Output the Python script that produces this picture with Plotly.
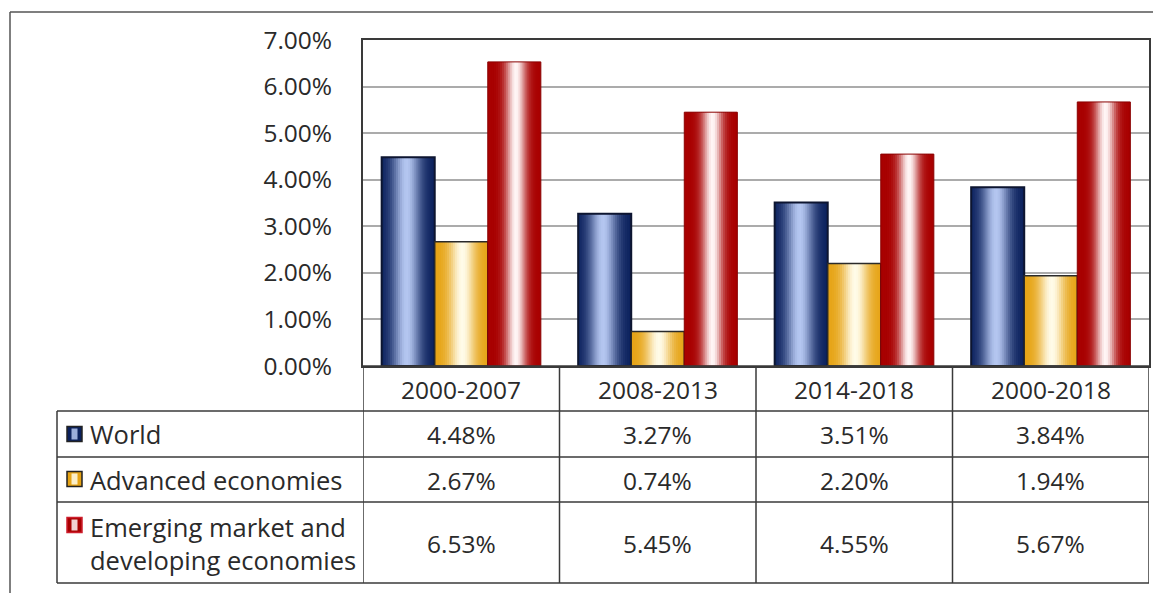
import plotly.graph_objects as go
import math

# ---------------- data ----------------
periods = ["2000-2007", "2008-2013", "2014-2018", "2000-2018"]
series_names = ["World", "Advanced economies", "Emerging market and<br>developing economies"]
world = [4.48, 3.27, 3.51, 3.84]
advanced = [2.67, 0.74, 2.20, 1.94]
emerging = [6.53, 5.45, 4.55, 5.67]
y_ticks = [0, 1, 2, 3, 4, 5, 6, 7]

# ---------------- styling ----------------
W, H = 1153, 593
OFF = 0
FONT = "Open Sans"
FS = 24.5
FS_LAB = 25.5
TXT = "#2a2a2a"
LINE = "#3a3a3a"

def px(x):
    return (x - OFF) / W

def py(y):
    return 1 - (y - OFF) / H

# gradient styles: (dark rgb, light rgb, centre, spread, outline colour, outline width)
styles = [
    ((10, 32, 92), (180, 198, 240), 0.47, 0.26, "#0d1530", 2),
    ((230, 163, 20), (255, 251, 232), 0.52, 0.24, "#2a2a2a", 1.5),
    ((168, 0, 0), (255, 246, 246), 0.53, 0.19, "#8a0000", 1),
]
all_vals = [world, advanced, emerging]

bar_w = 0.27
offsets = [-0.405, -0.135, 0.135]
N = 26
strip = bar_w / N

def mix(c1, c2, f):
    return "rgb(%d,%d,%d)" % tuple(round(a + (b - a) * f) for a, b in zip(c1, c2))

fig = go.Figure()
for s, vals in enumerate(all_vals):
    dark, light, c, sp, oc, ow = styles[s]
    for k in range(N):
        t = (k + 0.5) / N
        f = math.exp(-((t - c) / sp) ** 2)
        w = strip * 1.6 if k < N - 1 else strip
        fig.add_trace(go.Bar(
            x=periods, y=vals, width=w, offset=offsets[s] + k * strip,
            marker=dict(color=mix(dark, light, f), line=dict(width=0)),
            showlegend=False, hoverinfo="skip"))
    fig.add_trace(go.Bar(
        x=periods, y=vals, width=bar_w, offset=offsets[s],
        marker=dict(color="rgba(0,0,0,0)", line=dict(color=oc, width=ow)),
        name=series_names[s].replace("<br>", " "), showlegend=False))

x_dom = [px(363), px(1149)]
y_dom = [py(366), py(40)]

fig.update_layout(
    width=W, height=H, barmode="overlay",
    margin=dict(l=0, r=0, t=0, b=0, autoexpand=False),
    paper_bgcolor="white", plot_bgcolor="white",
    font=dict(family=FONT, color=TXT),
    xaxis=dict(domain=x_dom, type="category", range=[-0.5, 3.5], automargin=False,
               showticklabels=False, ticks="", showgrid=False,
               showline=True, mirror=True, linecolor=LINE, linewidth=2,
               fixedrange=True),
    yaxis=dict(domain=y_dom, range=[0, 7], tickvals=y_ticks, automargin=False,
               ticktext=["%.2f%%" % v for v in y_ticks],
               tickfont=dict(size=FS, color=TXT, family=FONT),
               ticks="", ticklabelstandoff=24,
               showgrid=True, gridcolor="#ababab", gridwidth=1.5,
               showline=True, mirror=True, linecolor=LINE, linewidth=2,
               zeroline=False, fixedrange=True),
)

shapes = []
# outer frame (top and left)
shapes.append(dict(type="line", xref="paper", yref="paper", x0=px(10), x1=1, y0=py(12), y1=py(12),
                   line=dict(color="#555555", width=1.5)))
shapes.append(dict(type="line", xref="paper", yref="paper", x0=px(10), x1=px(10), y0=py(12), y1=0,
                   line=dict(color="#555555", width=1.5)))

# table geometry
row_edges = [366, 411, 457, 502, 583]
tbl_left = 57
for i, yy in enumerate(row_edges):
    x0 = px(363) if i == 0 else px(tbl_left)
    shapes.append(dict(type="line", xref="paper", yref="paper", x0=x0, x1=px(1149), y0=py(yy), y1=py(yy),
                       line=dict(color=LINE, width=1.5)))
shapes.append(dict(type="line", xref="paper", yref="paper", x0=px(tbl_left), x1=px(tbl_left),
                   y0=py(411), y1=py(583), line=dict(color=LINE, width=1.5)))
for i in range(len(periods) + 1):
    shapes.append(dict(type="line", xref="x", yref="paper", x0=i - 0.5, x1=i - 0.5,
                       y0=py(366), y1=py(583), line=dict(color=LINE, width=1.5)))

annotations = []
for p in periods:
    annotations.append(dict(x=p, xref="x", y=py(389), yref="paper", text=p, showarrow=False,
                            xanchor="center", yanchor="middle", font=dict(size=FS, family=FONT, color=TXT)))
row_centres = [434, 480, 543]
for s, vals in enumerate(all_vals):
    for p, v in zip(periods, vals):
        annotations.append(dict(x=p, xref="x", y=py(row_centres[s]), yref="paper", text="%.2f%%" % v,
                                showarrow=False, xanchor="center", yanchor="middle",
                                font=dict(size=FS, family=FONT, color=TXT)))
    annotations.append(dict(x=px(88), xref="paper", y=py(row_centres[s]), yref="paper",
                            text=series_names[s], showarrow=False, xanchor="left", yanchor="middle",
                            align="left", font=dict(size=FS_LAB, family=FONT, color=TXT)))

# legend keys in the table
key_y = [434, 479, 525]
for s in range(3):
    dark, light, c, sp, oc, ow = styles[s]
    kx0, kx1 = 67, 82
    ky0, ky1 = key_y[s] - 7.5, key_y[s] + 7.5
    edge = "#222222" if s < 2 else "rgb(205,30,45)"
    shapes.append(dict(type="rect", xref="paper", yref="paper", x0=px(kx0), x1=px(kx1), y0=py(ky1), y1=py(ky0),
                       fillcolor=mix(dark, light, 0.0), line=dict(color=edge, width=1.5)))
    shapes.append(dict(type="rect", xref="paper", yref="paper", x0=px(kx0 + 4.5), x1=px(kx1 - 4.5),
                       y0=py(ky1 - 2), y1=py(ky0 + 2),
                       fillcolor=mix(dark, light, 0.85), line=dict(width=0)))

fig.update_layout(shapes=shapes, annotations=annotations)
fig.write_html(
    "out.html",
    config={"displayModeBar": False},
    post_script="document.body.style.margin='0';document.body.style.overflow='hidden';",
)
